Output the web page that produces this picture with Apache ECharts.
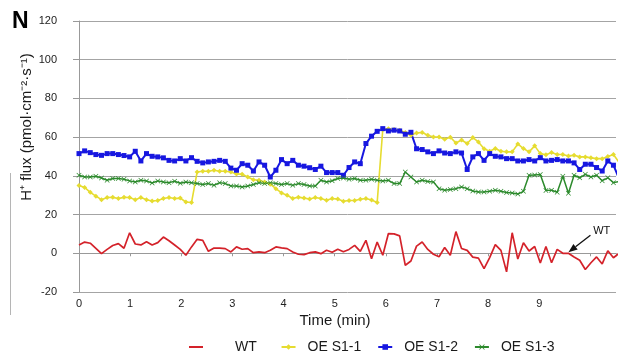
<!DOCTYPE html>
<html>
<head>
<meta charset="utf-8">
<script src="https://cdn.jsdelivr.net/npm/echarts@6/dist/echarts.min.js"></script>
<style>
  html, body { margin: 0; padding: 0; background: #fff; }
  #fluxChart { width: 619px; height: 352px; }
</style>
</head>
<body>
<div id="fluxChart"></div>
<script>
// readings every ~0.11 min (pmol·cm-2·s-1)
const sampleStep = 0.11;
const seriesNames = ["WT", "OE S1-1", "OE S1-2", "OE S1-3"];

const wt = [4.3, 5.8, 5.2, 2.5, -0.2, 2, 4, 5, 2.6, 10.6,
  4.8, 4.3, 6, 4.3, 5.5, 8.4, 6.5, 4.3, 2, -1,
  3.3, 7.2, 6.7, 1, 2.7, 2.7, 2.4, 0.7, 3.3, 2.1,
  2.4, 0.3, 0.7, 0.3, 1.6, 3.3, 2.8, 2.4, 0.7, -0.5,
  -0.7, 0.3, 0.7, -0.2, 1.6, 0.5, 2.1, 0.8, 2, 4.1,
  1, 6.7, -2.8, 5.8, -1, 10.2, 10, 9, -6.2, -4,
  3.7, 5.8, 2, -0.5, -1.8, 3, -1, 11.2, 2.5, 1.5,
  -2, -2.5, -7.9, -2.2, 4.5, 1.5, -9.6, 10.6, -3, 5.4,
  1.2, 3.5, -5, 3.5, -4.9, 2, 0, 0, -1.9, -3.6,
  -8.4, -4.9, -1.9, -5.5, 1.3, -2.3, 0];

const oe1 = [35, 34, 31.5, 29.5, 27.7, 28.8, 28.9, 28.3, 28.9, 28.8,
  27.7, 28.8, 27.7, 27, 27.3, 28.3, 28.8, 28.3, 28.5, 26.5,
  26.2, 42, 42.4, 42.4, 42.9, 42.4, 42.4, 42, 41, 40.8,
  39.4, 38, 37.7, 36.8, 35.7, 33.4, 31.2, 30, 28.3, 29,
  28.5, 28, 28.8, 28.3, 27.4, 28.3, 28, 26.9, 27.3, 27.3,
  27.9, 28.3, 27.5, 26.2, 64, 64.4, 63.9, 63.6, 62.4, 61,
  62.2, 62.4, 61, 60.1, 60.1, 58.9, 60, 57, 58.5, 56.7,
  59.8, 57.5, 54, 52.7, 54.1, 52.7, 52.4, 52.4, 56.5, 54.1,
  52.4, 55.5, 51.5, 50.9, 52.1, 51, 51, 50.3, 50.6, 49.8,
  49.8, 49.3, 48.9, 48.9, 50, 51, 47];

const oe2 = [51.5, 52.9, 52, 51, 50.6, 51.5, 51.5, 51, 50.5, 49.8,
  52.7, 47.7, 51.5, 50.1, 49.8, 49.3, 48, 47.7, 48.9, 47.7,
  49.4, 47.5, 46.7, 47.2, 47.5, 48, 47.5, 44, 42.9, 46.3,
  45.5, 42.5, 47.2, 45.5, 39.4, 42.9, 48.4, 46.3, 48, 45.5,
  45, 44.2, 43.3, 45, 41.7, 41.7, 41.7, 40.3, 44.3, 47.2,
  46.3, 56.7, 60.5, 63, 64.4, 63.2, 63.6, 63.2, 61.5, 62.5,
  54, 53.6, 52.4, 51.5, 52.9, 51.8, 51.5, 52.4, 51.8, 43.3,
  49.8, 51.5, 48, 51.5, 50.1, 49.8, 48.9, 48.9, 47.7, 47.7,
  48.4, 47.7, 49.4, 47.7, 48, 48.4, 47.7, 47.7, 46.7, 43.3,
  46, 46, 44.3, 42.5, 47.7, 45.5, 38.6];

const oe3 = [40.3, 39.4, 39.4, 39.8, 38.9, 37.7, 38.6, 38.6, 38.2, 37.4,
  36.8, 37.7, 37.4, 36.3, 37.4, 36.8, 36.5, 37.2, 36.2, 36.8,
  36.5, 36, 35.5, 36, 35.1, 36.5, 36, 34.8, 34.8, 34.3,
  34.8, 35.5, 36.5, 36, 36.5, 36, 35.5, 36, 35.1, 36,
  35.5, 34.8, 34.8, 37.7, 36.8, 37.5, 38.6, 38.9, 38.2, 38.6,
  37.7, 37.7, 38.2, 37.7, 37.4, 37.7, 36, 36, 42, 39.4,
  36.8, 37.7, 37.1, 36.8, 33.4, 32.6, 33, 33.4, 34.3, 33.4,
  32.2, 31.7, 31.7, 32, 32.6, 32, 31.4, 31.2, 30.6, 32,
  40.3, 40.5, 40.7, 32.5, 32.6, 31.5, 39.8, 31, 40.3, 39,
  40.8, 39.4, 40.3, 37.5, 39, 36.5, 37];

const xTickMax = 9; // last labelled minute
const yTicks = { min: -20, max: 120, step: 20 };
const wtArrow = { tail: [10.0, 9.3], tip: [9.57, 0.5], label: [10.22, 11.5] };

function toPairs(values) {
  return values.map((v, i) => [+(i * sampleStep).toFixed(2), v]);
}

const crossPath = "path://M0,1L1,0L5,4L9,0L10,1L6,5L10,9L9,10L5,6L1,10L0,9L4,5Z";
const font = "Arial, 'Liberation Sans', sans-serif";

const chart = echarts.init(document.getElementById("fluxChart"));
const option = {
  animation: false,
  backgroundColor: "#fff",
  grid: { left: 79, right: 0, top: 21, bottom: 60 },
  legend: {
    left: 183,
    top: 335,
    itemWidth: 14,
    itemHeight: 7,
    itemGap: 16,
    // the WT entry sits further from its key in the original figure
    formatter: (name) => (name === "WT" ? name + "  " : name),
    textStyle: { fontFamily: font, fontSize: 14, color: "#1a1a1a" },
    data: [
      { name: "WT", itemStyle: { opacity: 0 }, textStyle: { padding: [0, 0, 0, 27] } },
      { name: "OE S1-1", textStyle: { padding: [0, 0, 0, 7] } },
      { name: "OE S1-2", textStyle: { padding: [0, 0, 0, 7] } },
      { name: "OE S1-3", textStyle: { padding: [0, 0, 0, 7] } },
    ],
  },
  xAxis: {
    type: "value",
    min: 0,
    max: 10.5,
    interval: 1,
    axisLine: { lineStyle: { color: "#999" } },
    axisTick: { show: true, length: 3, lineStyle: { color: "#999" } },
    axisLabel: {
      fontFamily: font,
      fontSize: 11,
      color: "#222",
      margin: 6,
      formatter: (v) => (v <= xTickMax && Number.isInteger(v) ? String(v) : ""),
    },
    splitLine: { show: false },
  },
  yAxis: {
    type: "value",
    min: yTicks.min,
    max: yTicks.max,
    interval: yTicks.step,
    axisLine: { show: true, lineStyle: { color: "#999" } },
    axisTick: { show: true, length: 6, lineStyle: { color: "#999" } },
    axisLabel: { fontFamily: font, fontSize: 11, color: "#222", margin: 22 },
    splitLine: { lineStyle: { color: "#a4a4a4" } },
  },
  series: [
    {
      name: seriesNames[0],
      type: "line",
      data: toPairs(wt),
      symbol: "none",
      lineStyle: { color: "#d4222a", width: 1.7 },
      itemStyle: { color: "#d4222a" },
    },
    {
      name: seriesNames[1],
      type: "line",
      data: toPairs(oe1),
      symbol: "diamond",
      symbolSize: 5,
      lineStyle: { color: "#e6dc30", width: 1.6 },
      itemStyle: { color: "#e6dc30" },
    },
    {
      name: seriesNames[2],
      type: "line",
      data: toPairs(oe2),
      symbol: "rect",
      symbolSize: 5,
      lineStyle: { color: "#1717e0", width: 2 },
      itemStyle: { color: "#1717e0" },
    },
    {
      name: seriesNames[3],
      type: "line",
      data: toPairs(oe3),
      symbol: crossPath,
      symbolSize: 5,
      lineStyle: { color: "#2c8a2c", width: 1.5 },
      itemStyle: { color: "#2c8a2c" },
    },
  ],
  graphic: [
    {
      id: "panel",
      type: "text",
      left: 12,
      top: 10,
      style: { text: "N", font: "bold 23px " + font, fill: "#000" },
    },
    {
      id: "edge",
      type: "line",
      shape: { x1: 10.5, y1: 173, x2: 10.5, y2: 315 },
      style: { stroke: "#b5b5b5", lineWidth: 1 },
    },
    {
      id: "ytitle",
      type: "text",
      x: 27,
      y: 127,
      rotation: Math.PI / 2,
      style: {
        text: "H\u207A flux (pmol\u00B7cm\u207B\u00B2\u00B7s\u207B\u00B9)",
        font: "15px " + font,
        fill: "#1a1a1a",
        align: "center",
        verticalAlign: "middle",
      },
    },
    {
      id: "xtitle",
      type: "text",
      x: 335,
      y: 321,
      style: {
        text: "Time (min)",
        font: "15px " + font,
        fill: "#1a1a1a",
        align: "center",
        verticalAlign: "middle",
      },
    },
  ],
};
chart.setOption(option);

// arrow pointing at the WT trace, placed in data coordinates
const tail = chart.convertToPixel({ gridIndex: 0 }, wtArrow.tail);
const tip = chart.convertToPixel({ gridIndex: 0 }, wtArrow.tip);
const lab = chart.convertToPixel({ gridIndex: 0 }, wtArrow.label);
const dx = tip[0] - tail[0], dy = tip[1] - tail[1];
const len = Math.sqrt(dx * dx + dy * dy);
const ux = dx / len, uy = dy / len;
const headLen = 9, headHalf = 3.5;
const base = [tip[0] - ux * headLen, tip[1] - uy * headLen];
chart.setOption({
  graphic: [
    {
      id: "wtLine",
      type: "line",
      shape: { x1: tail[0], y1: tail[1], x2: base[0], y2: base[1] },
      style: { stroke: "#111", lineWidth: 1.3 },
    },
    {
      id: "wtHead",
      type: "polygon",
      shape: {
        points: [
          tip,
          [base[0] - uy * headHalf, base[1] + ux * headHalf],
          [base[0] + uy * headHalf, base[1] - ux * headHalf],
        ],
      },
      style: { fill: "#111" },
    },
    {
      id: "wtText",
      type: "text",
      x: lab[0],
      y: lab[1],
      style: { text: "WT", font: "11px " + font, fill: "#111", align: "center", verticalAlign: "middle" },
    },
  ],
});

window.addEventListener("resize", () => {
  chart.resize();
});
</script>
</body>
</html>
